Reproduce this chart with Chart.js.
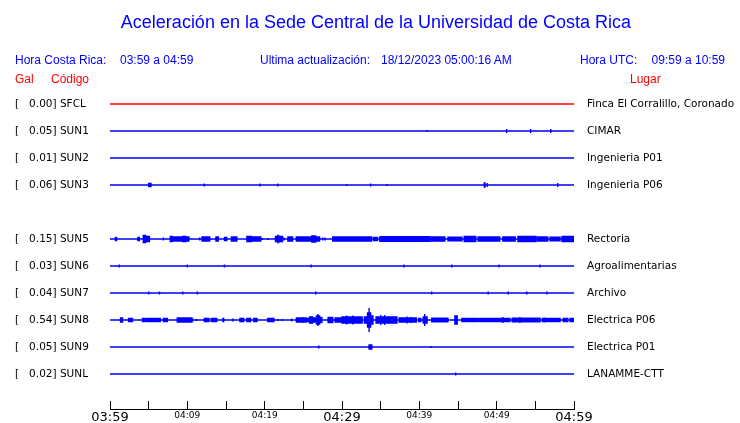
<!DOCTYPE html>
<html>
<head>
<meta charset="utf-8">
<script src="https://cdn.jsdelivr.net/npm/chart.js@4.4.0/dist/chart.umd.min.js"></script>
<style>
  body { margin: 0; background: #fff; }
  #wrap { position: relative; width: 740px; height: 423px; overflow: hidden; }
  #Canvas { position: absolute; left: 0; top: 0; }
  .t { position: absolute; font-family: "Liberation Sans", Arial, sans-serif; white-space: pre; line-height: 1; }
  .azul { color: #0000ff; }
  .rojo { color: #ff0000; }
</style>
</head>
<body>
<div id="wrap">
  <canvas id="Canvas" width="740" height="423"></canvas>
  <div class="t azul" style="left:0;width:752px;text-align:center;top:13px;font-size:18px">Aceleración en la Sede Central de la Universidad de Costa Rica</div>
  <div class="t azul" style="left:15px;top:54px;font-size:12px">Hora Costa Rica:</div>
  <div class="t azul" style="left:120px;top:54px;font-size:12px">03:59 a 04:59</div>
  <div class="t azul" style="left:260px;top:54px;font-size:12px">Ultima actualización:</div>
  <div class="t azul" style="left:381px;top:54px;font-size:12px">18/12/2023 05:00:16 AM</div>
  <div class="t azul" style="left:580px;top:54px;font-size:12px">Hora UTC:</div>
  <div class="t azul" style="right:15px;top:54px;font-size:12px">09:59 a 10:59</div>
  <div class="t rojo" style="left:15px;top:73px;font-size:12px">Gal</div>
  <div class="t rojo" style="left:51px;top:73px;font-size:12px">Código</div>
  <div class="t rojo" style="left:630px;top:73px;font-size:12px">Lugar</div>
</div>
<script>
// Estaciones (SUN4 sin datos)
let codigos = ["SFCL", "SUN1", "SUN2", "SUN3", "SUN4", "SUN5", "SUN6", "SUN7", "SUN8", "SUN9", "SUNL"];
let gal = [0.00, 0.05, 0.01, 0.06, null, 0.15, 0.03, 0.04, 0.54, 0.05, 0.02];
let lugares = ["Finca El Corralillo, Coronado", "CIMAR", "Ingenieria P01", "Ingenieria P06", "",
  "Rectoria", "Agroalimentarias", "Archivo", "Electrica P06", "Electrica P01", "LANAMME-CTT"];
let horas = ["03:59", "04:09", "04:19", "04:29", "04:39", "04:49", "04:59"];

// eventos: [minuto inicio, minuto fin, amplitud]
let sfcl = [];
let sun1 = [[41.0, 41.0, 1], [51.3, 51.3, 2], [54.4, 54.4, 2], [57.0, 57.0, 2]];
let sun2 = [];
let sun3 = [[5.0, 5.3, 1.5], [12.2, 12.2, 1.5], [19.4, 19.4, 1.5], [21.7, 21.7, 1.5], [30.6, 30.6, 1],
  [33.7, 33.7, 1.5], [35.8, 35.8, 1], [48.4, 48.5, 2], [48.8, 48.8, 2], [57.9, 57.9, 2]];
let sun5 = [[0.7, 0.85, 1.5], [3.6, 3.8, 1.5], [4.3, 4.6, 3.5], [4.6, 5.1, 2.5], [6.9, 6.9, 1.5],
  [7.8, 8.0, 2.5], [8.1, 9.3, 2], [9.4, 9.8, 2.5], [9.8, 10.2, 2], [11.6, 11.6, 1.5], [11.9, 12.9, 2],
  [13.7, 14.0, 2], [14.8, 15.1, 1.5], [15.7, 16.4, 2], [17.7, 18.3, 2.5], [18.3, 19.5, 2],
  [19.7, 19.7, 1], [20.4, 20.4, 1], [21.4, 22.3, 2.5], [21.7, 21.8, 3.5], [22.5, 22.5, 1.5],
  [23.0, 23.6, 2], [24.1, 27.1, 2], [26.1, 26.6, 3], [27.5, 27.5, 1.5], [27.8, 27.8, 1.5],
  [28.8, 33.85, 2], [34.1, 34.6, 1.5], [34.9, 41.4, 2.2], [41.6, 43.3, 2], [43.7, 45.5, 1.8],
  [45.8, 47.3, 2.5], [47.6, 50.4, 2], [50.8, 52.4, 2], [52.75, 55.1, 2.5], [55.3, 56.6, 2],
  [56.9, 58.2, 1.8], [58.45, 60, 2.5]];
let sun6 = [[1.2, 1.2, 1.5], [10.0, 10.0, 1.5], [14.8, 14.8, 1.5], [26.0, 26.0, 1.5], [38.0, 38.0, 1.5],
  [44.2, 44.2, 1.5], [50.3, 50.3, 1.5], [55.6, 55.6, 1.5]];
let sun7 = [[5.0, 5.0, 1.5], [6.4, 6.4, 1.5], [9.4, 9.4, 1.5], [11.3, 11.3, 1.5], [26.6, 26.6, 1.5],
  [41.6, 41.6, 1.5], [48.9, 48.9, 1.5], [51.5, 51.5, 1.5], [53.9, 53.9, 1.5], [56.5, 56.5, 1.5]];
let sun8 = [[1.36, 1.62, 2], [2.4, 2.9, 1.5], [4.2, 4.5, 1.5], [4.7, 5.5, 1.5], [5.6, 6.0, 1.5],
  [6.1, 6.5, 1.5], [6.9, 7.4, 1.5], [8.7, 10.6, 2], [10.7, 10.7, 1.5], [11.2, 11.2, 1],
  [12.2, 12.8, 1.5], [13.1, 13.8, 1.5], [14.6, 14.7, 1.5], [15.9, 15.9, 1.5], [16.8, 17.3, 1.5],
  [17.7, 18.2, 1.5], [18.6, 19.0, 1.5], [20.4, 21.2, 1.5], [21.7, 21.7, 1], [22.3, 22.3, 1],
  [23.5, 23.5, 1.5], [24.1, 25.4, 2], [25.0, 25.0, 3], [25.4, 25.8, 1.5], [25.8, 26.2, 3],
  [26.2, 26.7, 2], [26.7, 27.1, 4], [26.9, 26.9, 6], [27.1, 27.4, 2.5], [28.2, 28.8, 2.5],
  [29.1, 30.0, 2], [30.0, 32.6, 3], [30.6, 30.6, 4.5], [31.4, 31.4, 4.5], [32.9, 33.3, 3],
  [33.3, 33.7, 7], [33.5, 33.5, 12], [33.7, 34.0, 4], [34.4, 37.1, 3], [35.0, 35.0, 5],
  [35.5, 35.5, 5], [37.4, 39.6, 2], [38.4, 38.4, 3.5], [38.9, 38.9, 3], [39.9, 40.2, 1.5],
  [40.5, 41.0, 3], [40.7, 40.7, 6], [41.6, 43.7, 1.8], [44.6, 44.9, 4], [45.5, 47.6, 1.5],
  [47.8, 51.7, 1.5], [50.8, 50.8, 3], [52.0, 55.6, 1.8], [53.0, 53.0, 3], [55.9, 58.2, 1.5],
  [56.2, 56.2, 2.5], [58.6, 59.2, 1.5], [58.8, 58.8, 2], [59.5, 60, 1.5]];
let sun9 = [[27.0, 27.0, 1.5], [33.5, 33.85, 2], [41.5, 41.5, 1]];
let sunl = [[44.7, 44.7, 1.5]];
let eventos = [sfcl, sun1, sun2, sun3, null, sun5, sun6, sun7, sun8, sun9, sunl];

const SEP = 27;

// recorre cada evento en franjas horizontales para que se vea relleno
function traza(fila, lista) {
  let base = fila * SEP;
  let pts = [{ x: 0, y: base }];
  lista.forEach(function (e) {
    let t0 = e[0], t1 = e[1], a = e[2];
    pts.push({ x: t0, y: base });
    if (t1 - t0 < 0.05) {
      pts.push({ x: t0, y: base - a });
      pts.push({ x: t0, y: base + a });
      pts.push({ x: t0, y: base });
      return;
    }
    let n = Math.max(1, Math.ceil(2 * a / 1.1));
    let ida = true;
    for (let k = 0; k <= n; k++) {
      let y = base - a + k * (2 * a / n);
      pts.push({ x: ida ? t0 : t1, y: y });
      pts.push({ x: ida ? t1 : t0, y: y });
      ida = !ida;
    }
    pts.push({ x: ida ? t0 : t1, y: base });
  });
  pts.push({ x: 60, y: base });
  return pts;
}

let datasets = [];
codigos.forEach(function (c, i) {
  if (gal[i] === null) return;
  datasets.push({
    label: c,
    data: traza(i, eventos[i]),
    borderColor: c === "SFCL" ? "#ff0000" : "#0000ff",
    borderWidth: 1.4,
    pointRadius: 0,
    tension: 0,
    fill: false
  });
});

function ticksFilas(scale) {
  scale.ticks = codigos.map(function (c, i) { return { value: i * SEP }; });
}

const lineaEje = {
  id: "lineaEje",
  afterDraw(chart) {
    let x = chart.scales.x;
    let c = chart.ctx;
    c.save();
    c.strokeStyle = "#000";
    c.lineWidth = 1;
    c.beginPath();
    c.moveTo(x.left, x.top + 8.5);
    c.lineTo(x.right + 1, x.top + 8.5);
    c.stroke();
    c.restore();
  }
};

let ctx = document.getElementById("Canvas").getContext("2d");
new Chart(ctx, {
  type: "line",
  data: { datasets: datasets },
  plugins: [lineaEje],
  options: {
    responsive: false,
    animation: false,
    devicePixelRatio: 1,
    layout: { padding: { top: 77, left: 15, right: 0, bottom: 0 } },
    plugins: { legend: { display: false }, tooltip: { enabled: false } },
    scales: {
      x: {
        type: "linear",
        min: 0,
        max: 60,
        afterFit: function (s) { s.height = 22; },
        grid: { drawOnChartArea: false, drawTicks: true, tickLength: 8, color: "#000", lineWidth: 1 },
        border: { display: false },
        ticks: {
          stepSize: 5,
          autoSkip: false,
          maxRotation: 0,
          padding: 1,
          color: "#000",
          font: function (c) {
            let v = c.tick ? c.tick.value : 0;
            return { family: "DejaVu Sans", size: v % 30 === 0 ? 13 : 9 };
          },
          callback: function (v) { return v % 10 === 0 ? horas[v / 10] : ""; }
        }
      },
      y: {
        type: "linear",
        position: "left",
        reverse: true,
        min: -SEP,
        max: 11 * SEP,
        afterBuildTicks: ticksFilas,
        afterFit: function (s) { s.width = 95; },
        grid: { display: false, drawTicks: false },
        border: { display: false },
        ticks: {
          crossAlign: "far",
          color: "#000",
          font: { family: "DejaVu Sans", size: 10.5 },
          callback: function (v) {
            let i = Math.round(v / SEP);
            if (gal[i] === null || gal[i] === undefined) return "";
            return "[   " + gal[i].toFixed(2) + "] " + codigos[i];
          }
        }
      },
      y2: {
        type: "linear",
        position: "right",
        reverse: true,
        min: -SEP,
        max: 11 * SEP,
        afterBuildTicks: ticksFilas,
        afterFit: function (s) { s.width = 166; },
        grid: { display: false, drawTicks: false },
        border: { display: false },
        ticks: {
          crossAlign: "near",
          padding: 13,
          color: "#000",
          font: { family: "DejaVu Sans", size: 10.5 },
          callback: function (v) {
            let i = Math.round(v / SEP);
            return lugares[i] || "";
          }
        }
      }
    }
  }
});
</script>
</body>
</html>
